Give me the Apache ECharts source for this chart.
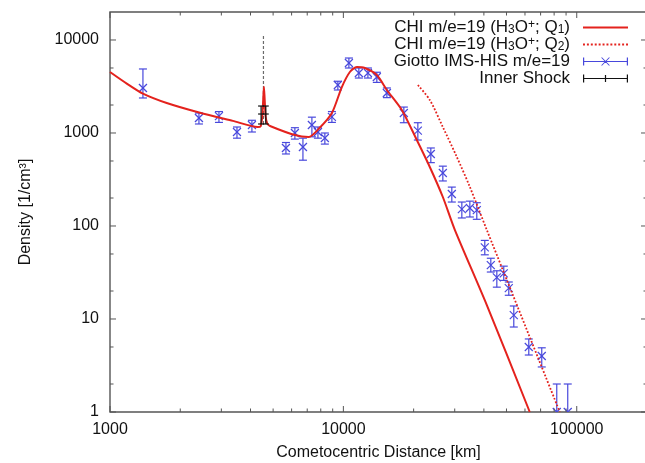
<!DOCTYPE html>
<html>
<head>
<meta charset="utf-8">
<script src="https://cdn.jsdelivr.net/npm/echarts@6/dist/echarts.min.js"></script>
<style>
  html, body { margin: 0; padding: 0; background: #ffffff; }
  #chart { width: 645px; height: 463px; }
</style>
</head>
<body>
<div id="chart"></div>
<script>
// CHI model, H3O+ density for production rate Q1 (distance km, density 1/cm^3)
const q1Distance = [1000, 1180, 1384, 1750, 2430, 3360, 4300, 4420, 4490, 4535, 4566, 4600, 4645, 4720, 4850, 6200, 7100, 7900, 8930, 9850, 10660, 11420, 12360, 13910, 15360, 17800, 20640, 23460, 26680, 30030, 41180, 62900];
const q1Density  = [4530, 3400, 2650, 2100, 1650, 1350, 1160, 1180, 1500, 2300, 3150, 2300, 1500, 1260, 1190, 950, 905, 1130, 1640, 3120, 4530, 5120, 5000, 4200, 2900, 1770, 840, 431, 205, 91, 14.1, 1];

// CHI model, production rate Q2
const q2Distance = [20850, 23460, 26680, 30630, 34830, 41180, 84600];
const q2Density  = [3280, 2264, 1160, 552, 263, 90.6, 1];

// Giotto IMS-HIS m/e=19 measurements with error ranges
const giottoDistance = [1384, 2405, 2930, 3500, 4056, 5674, 6197, 6710, 7330, 7780, 8330, 8930, 9470, 10560, 11650, 12740, 13910, 15360, 18160, 20850, 23700, 26680, 29150, 32180, 34830, 37300, 40360, 42830, 45450, 48670, 51140, 53730, 62300, 70800, 82100, 91500];
const giottoDensity  = [3050, 1450, 1520, 1025, 1220, 690, 1000, 707, 1220, 1025, 884, 1490, 3280, 5660, 4420, 4420, 4000, 2690, 1640, 1060, 595, 371, 221, 152, 156, 148, 59, 38, 28, 31, 21.5, 11, 5.0, 4.0, 1.0, 1.0];
const giottoLow      = [2380, 1250, 1300, 880, 1025, 595, 860, 510, 910, 880, 760, 1300, 2900, 5000, 3900, 3900, 3500, 2400, 1290, 840, 480, 305, 181, 122, 125, 118, 49, 32, 22, 26, 18, 8.2, 4.1, 3.05, 0.5, 0.5];
const giottoHigh     = [4880, 1640, 1700, 1160, 1370, 790, 1140, 880, 1480, 1160, 1000, 1700, 3600, 6400, 5000, 5000, 4500, 3050, 1900, 1290, 690, 440, 262, 181, 185, 178, 70, 45, 33, 37, 25, 13.8, 6.1, 4.9, 2.0, 2.0];

// Inner shock crossing
const shockDistance = [4440, 4650];
const shockDensity  = [1600, 1600];
const shockLow      = [1250, 1250];
const shockHigh     = [1950, 1950];
const shockLineDistance = [4545, 4545];
const shockLineDensity  = [1250, 11600];

// Axis ticks
const xMajorTicks = [1000, 10000, 100000];
const xMinorTicks = [2000, 3000, 4000, 5000, 6000, 7000, 8000, 9000, 20000, 30000, 40000, 50000, 60000, 70000, 80000, 90000];
const yMajorTicks = [1, 10, 100, 1000, 10000];
const yMinorTicks = [2, 5, 20, 50, 200, 500, 2000, 5000];

const FONT = '"Liberation Sans", Arial, Helvetica, sans-serif';
const RED = '#e4221d';
const BLUE = '#4848dc';
const BLACK = '#111111';
const FRAME = '#555555';

const names = {
  q1: 'CHI m/e=19 (H3O+; Q1)',
  q2: 'CHI m/e=19 (H3O+; Q2)',
  giotto: 'Giotto IMS-HIS m/e=19',
  shock: 'Inner Shock'
};
const legendText = {};
legendText[names.q1] = '{n|CHI m/e=19 (H}{sub|3}{n|O}{sup|+}{n|; Q}{sub|1}{n|)}';
legendText[names.q2] = '{n|CHI m/e=19 (H}{sub|3}{n|O}{sup|+}{n|; Q}{sub|2}{n|)}';
legendText[names.giotto] = '{n|Giotto IMS-HIS m/e=19}';
legendText[names.shock] = '{n|Inner Shock}';

// legend key shapes (45 x 8 box)
const solidKey = 'path://M0 3H45V5H0Z';
let dottedKey = 'path://';
for (let x = 0; x + 1.8 <= 45; x += 3.6) {
  dottedKey += 'M' + x.toFixed(1) + ' 3.1H' + (x + 1.8).toFixed(1) + 'V4.9H' + x.toFixed(1) + 'Z';
}
const giottoKey = 'path://M0 3.4H45V4.6H0Z M0 0H1.2V8H0Z M43.8 0H45V8H43.8Z M18 0L19.2 0L27 8L25.8 8Z M25.8 0L27 0L19.2 8L18 8Z';
const shockKey = 'path://M0 3.4H45V4.6H0Z M0 0H1.2V8H0Z M43.8 0H45V8H43.8Z M21.9 0.5H23.1V7.5H21.9Z';

const zip = (xs, ys) => xs.map((x, i) => [x, ys[i]]);
const zip4 = (xs, ys, lo, hi) => xs.map((x, i) => [x, ys[i], lo[i], hi[i]]);

// vertical error bar with end caps and a centre marker ('x' or '+')
function errorBar(capHalf, markHalf, marker, color) {
  return function (params, api) {
    const x = api.value(0);
    const c = api.coord([x, api.value(1)]);
    const lo = api.coord([x, api.value(2)]);
    const hi = api.coord([x, api.value(3)]);
    const st = { stroke: color, lineWidth: 1.2 };
    const kids = [
      { type: 'line', shape: { x1: c[0], y1: lo[1], x2: c[0], y2: hi[1] }, style: st },
      { type: 'line', shape: { x1: c[0] - capHalf, y1: lo[1], x2: c[0] + capHalf, y2: lo[1] }, style: st },
      { type: 'line', shape: { x1: c[0] - capHalf, y1: hi[1], x2: c[0] + capHalf, y2: hi[1] }, style: st }
    ];
    if (marker === 'x') {
      kids.push({ type: 'line', shape: { x1: c[0] - markHalf, y1: c[1] - markHalf, x2: c[0] + markHalf, y2: c[1] + markHalf }, style: st });
      kids.push({ type: 'line', shape: { x1: c[0] - markHalf, y1: c[1] + markHalf, x2: c[0] + markHalf, y2: c[1] - markHalf }, style: st });
    } else {
      kids.push({ type: 'line', shape: { x1: c[0] - markHalf, y1: c[1], x2: c[0] + markHalf, y2: c[1] }, style: st });
    }
    return { type: 'group', children: kids };
  };
}

// ticks drawn inward on all four sides of the frame
function xTicks(len) {
  return function (params, api) {
    const r = params.coordSys;
    const p = api.coord([api.value(0), 1]);
    const st = { stroke: FRAME, lineWidth: 1 };
    return { type: 'group', children: [
      { type: 'line', shape: { x1: p[0], y1: r.y + r.height, x2: p[0], y2: r.y + r.height - len }, style: st },
      { type: 'line', shape: { x1: p[0], y1: r.y, x2: p[0], y2: r.y + len }, style: st }
    ] };
  };
}
function yTicks(len) {
  return function (params, api) {
    const r = params.coordSys;
    const p = api.coord([1000, api.value(1)]);
    const st = { stroke: FRAME, lineWidth: 1 };
    return { type: 'group', children: [
      { type: 'line', shape: { x1: r.x, y1: p[1], x2: r.x + len, y2: p[1] }, style: st },
      { type: 'line', shape: { x1: r.x + r.width, y1: p[1], x2: r.x + r.width - len, y2: p[1] }, style: st }
    ] };
  };
}

const chart = echarts.init(document.getElementById('chart'), null, { renderer: 'canvas' });

chart.setOption({
  animation: false,
  backgroundColor: '#ffffff',
  textStyle: { fontFamily: FONT },
  grid: {
    left: 110, top: 12, width: 537, height: 400,
    outerBoundsMode: 'none', containLabel: false,
    show: true, borderColor: FRAME, borderWidth: 1.4, backgroundColor: 'transparent'
  },
  xAxis: {
    type: 'log', logBase: 10, min: 1000, max: 200000,
    name: 'Cometocentric Distance [km]', nameLocation: 'middle', nameGap: 33,
    nameTextStyle: { fontFamily: FONT, fontSize: 16, color: '#111' },
    axisLine: { show: false }, axisTick: { show: false }, splitLine: { show: false },
    axisLabel: {
      fontFamily: FONT, fontSize: 16, color: '#111', margin: 10,
      showMaxLabel: false,
      formatter: v => String(Math.round(v))
    }
  },
  yAxis: {
    type: 'log', logBase: 10, min: 1, max: 20000,
    name: 'Density [1/cm³]', nameLocation: 'middle', nameGap: 76,
    nameTextStyle: { fontFamily: FONT, fontSize: 16, color: '#111' },
    axisLine: { show: false }, axisTick: { show: false }, splitLine: { show: false },
    axisLabel: {
      fontFamily: FONT, fontSize: 16, color: '#111', margin: 11,
      showMaxLabel: false,
      formatter: v => String(Math.round(v))
    }
  },
  legend: {
    orient: 'vertical', align: 'right', right: 17, top: 19, padding: 0,
    itemWidth: 45, itemHeight: 8, itemGap: 0,
    formatter: name => legendText[name],
    textStyle: {
      fontFamily: FONT, fontSize: 17, color: '#111', padding: [0, 8, 0, 0],
      rich: {
        n: { fontFamily: FONT, fontSize: 17, lineHeight: 17, color: '#111' },
        sub: { fontFamily: FONT, fontSize: 12, lineHeight: 6, verticalAlign: 'bottom', color: '#111' },
        sup: { fontFamily: FONT, fontSize: 12, lineHeight: 6, verticalAlign: 'top', color: '#111' }
      }
    },
    data: [
      { name: names.q1, icon: solidKey, itemStyle: { color: RED } },
      { name: names.q2, icon: dottedKey, itemStyle: { color: RED } },
      { name: names.giotto, icon: giottoKey, itemStyle: { color: BLUE } },
      { name: names.shock, icon: shockKey, itemStyle: { color: BLACK } }
    ]
  },
  series: [
    {
      type: 'custom', name: 'xMajor', silent: true, z: 5,
      renderItem: xTicks(6), encode: { x: 0, y: 1 },
      data: xMajorTicks.map(v => [v, 1])
    },
    {
      type: 'custom', name: 'xMinor', silent: true, z: 5,
      renderItem: xTicks(3.5), encode: { x: 0, y: 1 },
      data: xMinorTicks.map(v => [v, 1])
    },
    {
      type: 'custom', name: 'yMajor', silent: true, z: 5,
      renderItem: yTicks(6), encode: { x: 0, y: 1 },
      data: yMajorTicks.map(v => [1000, v])
    },
    {
      type: 'custom', name: 'yMinor', silent: true, z: 5,
      renderItem: yTicks(3.5), encode: { x: 0, y: 1 },
      data: yMinorTicks.map(v => [1000, v])
    },
    {
      type: 'line', name: 'shockLine', silent: true, z: 2,
      symbol: 'none', clip: true,
      lineStyle: { color: '#6a6a6a', width: 1.2, type: [3, 2] },
      data: zip(shockLineDistance, shockLineDensity)
    },
    {
      type: 'custom', name: names.giotto, z: 3, clip: true,
      itemStyle: { color: BLUE },
      renderItem: errorBar(4, 4, 'x', BLUE),
      encode: { x: 0, y: 1 },
      data: zip4(giottoDistance, giottoDensity, giottoLow, giottoHigh)
    },
    {
      type: 'line', name: names.q2, z: 4,
      symbol: 'none', clip: true, smooth: 0.3,
      itemStyle: { color: RED },
      lineStyle: { color: RED, width: 1.8, type: [1.8, 1.8] },
      data: zip(q2Distance, q2Density)
    },
    {
      type: 'line', name: names.q1, z: 4,
      symbol: 'none', clip: true, smooth: 0.25,
      itemStyle: { color: RED },
      lineStyle: { color: RED, width: 2 },
      data: zip(q1Distance, q1Density)
    },
    {
      type: 'custom', name: names.shock, z: 6, clip: true,
      itemStyle: { color: BLACK },
      renderItem: errorBar(3, 3, '+', BLACK),
      encode: { x: 0, y: 1 },
      data: zip4(shockDistance, shockDensity, shockLow, shockHigh)
    }
  ]
});
</script>
</body>
</html>
